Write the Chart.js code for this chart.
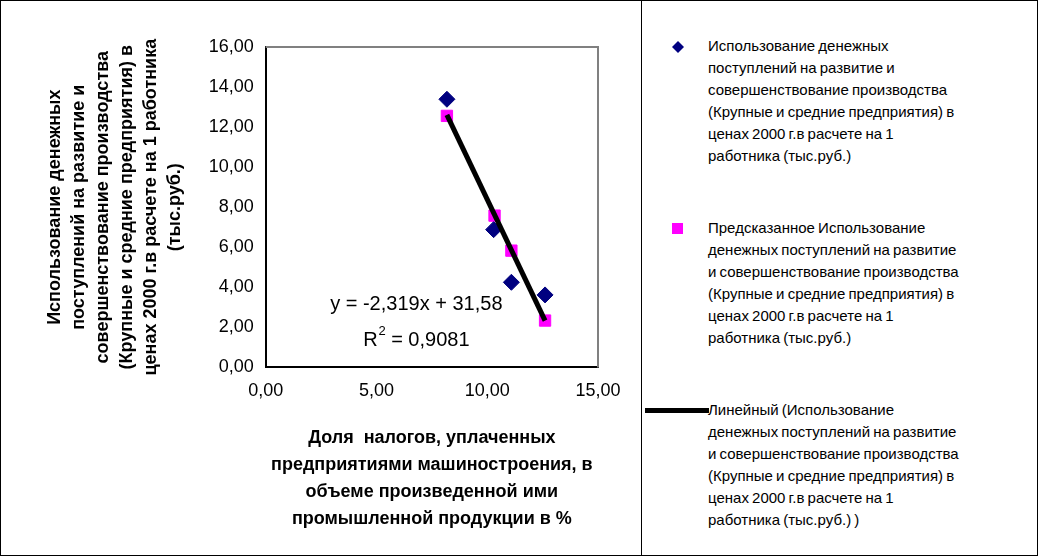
<!DOCTYPE html>
<html><head><meta charset="utf-8">
<script src="https://cdn.jsdelivr.net/npm/chart.js@4.4.0/dist/chart.umd.min.js"></script>
<style>
body{margin:0;background:#fff;font-family:"Liberation Sans",Arial,sans-serif}
#wrap{position:relative;width:1036px;height:554px;border:1px solid #000}
#left{position:absolute;left:0;top:0;width:640px;height:554px;border-right:1px solid #000}
#legend{position:absolute;left:641px;top:0;width:395px;font-size:15px;line-height:22px;color:#000}
.item{position:absolute;left:66px;width:325px;word-spacing:-1px}
.mk{position:absolute;left:-36px}
</style></head><body>
<div id="wrap">
<div id="left"><canvas id="c" width="640" height="554"></canvas></div>
<div id="legend">
 <div class="item" style="top:34px"><svg class="mk" style="top:6px" width="12" height="12"><polygon points="6,0 12,6 6,12 0,6" fill="#000080"/></svg>Использование денежных<br>поступлений на развитие и<br>совершенствование производства<br>(Крупные и средние предприятия) в<br>ценах 2000 г.в расчете на 1<br>работника (тыс.руб.)</div>
 <div class="item" style="top:216px"><svg class="mk" style="top:6px" width="11" height="11"><rect width="11" height="11" fill="#ff00ff"/></svg>Предсказанное Использование<br>денежных поступлений на развитие<br>и совершенствование производства<br>(Крупные и средние предприятия) в<br>ценах 2000 г.в расчете на 1<br>работника (тыс.руб.)</div>
 <div class="item" style="top:398px"><svg class="mk" style="top:9px;left:-63px" width="64" height="6"><rect width="64" height="5" fill="#000"/></svg>Линейный (Использование<br>денежных поступлений на развитие<br>и совершенствование производства<br>(Крупные и средние предприятия) в<br>ценах 2000 г.в расчете на 1<br>работника (тыс.руб.) )</div>
</div>
</div>
<script>
var xActual = [8.18, 10.29, 11.09, 12.61];
var yActual = [13.39, 6.88, 4.25, 3.62];
var xPred = [8.18, 10.33, 11.09, 12.61];
var yPred = [12.56, 7.58, 5.83, 2.34];
var trendX = [8.18, 12.61];
var slope = -2.319, intercept = 31.58;
var yTitle = ["Использование денежных","поступлений на развитие и","совершенствование производства","(Крупные и средние предприятия) в","ценах 2000 г.в расчете на 1 работника","(тыс.руб.)"];
var xTitle = ["Доля  налогов, уплаченных","предприятиями машиностроения, в","объеме произведенной ими","промышленной продукции в %"];

function pts(xs, ys){ var a=[]; for(var i=0;i<xs.length;i++){ a.push({x:xs[i], y:ys[i]}); } return a; }
var trend = []; for (var i=0;i<trendX.length;i++){ trend.push({x:trendX[i], y:slope*trendX[i]+intercept}); }
function fmt(v){ return v.toFixed(2).replace(".", ","); }

var eqPlugin = {
  id:"eq",
  afterDatasetsDraw:function(ch){
    var c=ch.ctx, xs=ch.scales.x, ys=ch.scales.y;
    c.save(); c.fillStyle="#000"; c.textBaseline="middle";
    c.font='20px "Liberation Sans", Arial';
    c.textAlign="center";
    var cx=xs.getPixelForValue(6.8);
    c.fillText("y = -2,319x + 31,58", cx, ys.getPixelForValue(3.14));
    var py=ys.getPixelForValue(1.34);
    var a="R", b=" = 0,9081";
    var wa=c.measureText(a).width, wb=c.measureText(b).width, ws=8;
    var x0=cx-(wa+ws+wb)/2;
    c.textAlign="left";
    c.fillText(a, x0, py);
    c.fillText(b, x0+wa+ws, py);
    c.font='13px "Liberation Sans", Arial';
    c.fillText("2", x0+wa+1, py-9);
    c.restore();
  }
};
var borderPlugin = {
  id:"pb",
  beforeDatasetsDraw:function(ch){
    var a=ch.chartArea, c=ch.ctx;
    c.save(); c.strokeStyle="#808080"; c.lineWidth=2;
    c.beginPath(); c.moveTo(a.left,a.top); c.lineTo(a.right,a.top); c.lineTo(a.right,a.bottom); c.stroke();
    c.restore();
  }
};

new Chart(document.getElementById("c"), {
  type:"scatter",
  data:{ datasets:[
    { label:"trend", type:"line", data:trend, borderColor:"#000", borderWidth:5, pointRadius:0, order:0 },
    { label:"pred", data:pts(xPred,yPred), pointStyle:"rect", pointRadius:8, backgroundColor:"#ff00ff", borderColor:"#ff00ff", order:2 },
    { label:"actual", data:pts(xActual,yActual), pointStyle:"rectRot", pointRadius:8, backgroundColor:"#000080", borderColor:"#000080", order:1 }
  ]},
  options:{
    responsive:false, animation:false,
    layout:{ padding:{ top:46, right:43, left:30, bottom:18 } },
    plugins:{ legend:{display:false}, tooltip:{enabled:false} },
    scales:{
      x:{ min:0, max:15, ticks:{ stepSize:5, color:"#000", padding:7, font:{size:18, family:"Liberation Sans"}, callback:function(v){ return fmt(v); } },
          grid:{ display:false, drawTicks:true, tickLength:6, tickColor:"#000" }, border:{ color:"#000", width:2 },
          title:{ display:true, text:xTitle, color:"#000", font:{size:18, weight:"bold", family:"Liberation Sans", lineHeight:1.5}, padding:{top:16} } },
      y:{ min:0, max:16, ticks:{ stepSize:2, color:"#000", padding:6, font:{size:18, family:"Liberation Sans"}, callback:function(v){ return fmt(v); } },
          grid:{ display:false, tickLength:6, tickColor:"#000" }, border:{ color:"#000", width:2 },
          title:{ display:true, text:yTitle, color:"#000", font:{size:18, weight:"bold", family:"Liberation Sans", lineHeight:1.33}, padding:{top:12, bottom:16} } }
    }
  },
  plugins:[eqPlugin, borderPlugin]
});
</script>
</body></html>
